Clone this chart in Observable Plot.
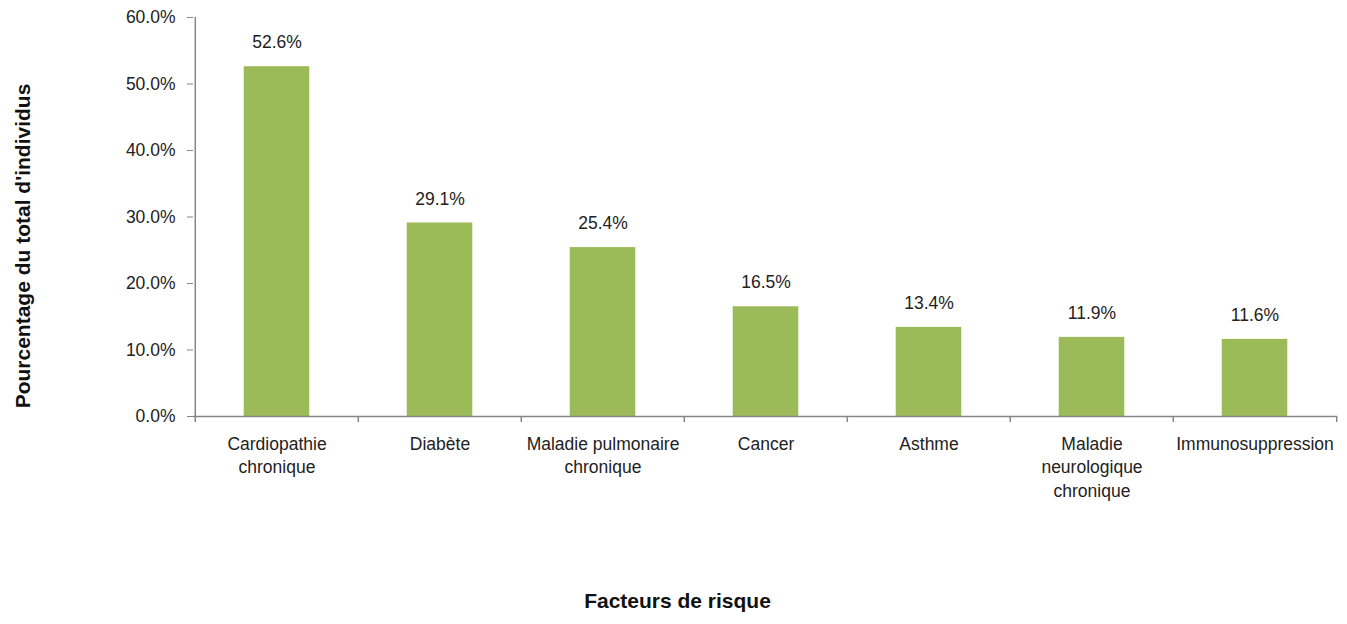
<!DOCTYPE html>
<html>
<head>
<meta charset="utf-8">
<script src="https://cdn.jsdelivr.net/npm/d3@7"></script>
<script src="https://cdn.jsdelivr.net/npm/@observablehq/plot@0.6"></script>
<style>
  html, body { margin: 0; padding: 0; background: #fff; }
  #chart svg { display: block; }
</style>
</head>
<body>
<div id="chart"></div>
<script>
const categories = [
  "Cardiopathie\nchronique",
  "Diabète",
  "Maladie pulmonaire\nchronique",
  "Cancer",
  "Asthme",
  "Maladie\nneurologique\nchronique",
  "Immunosuppression"
];
const values = [52.6, 29.1, 25.4, 16.5, 13.4, 11.9, 11.6];
const yTicks = [0, 10, 20, 30, 40, 50, 60];
const xTitle = "Facteurs de risque";
const yTitle = "Pourcentage du total d'individus";

const data = categories.map((c, i) => ({category: c, value: values[i]}));

const W = 1347, H = 624;
const mL = 193, mR = 10, mT = 17, mB = 208;
const bw = (W - mL - mR) / categories.length;
const barW = 66;
const inset = (bw - barW) / 2;
const font = "'Liberation Sans', Arial, sans-serif";
const axisColor = "#868686";
const fs = 17.5;

const chart = Plot.plot({
  width: W,
  height: H,
  marginLeft: mL,
  marginRight: mR,
  marginTop: mT,
  marginBottom: mB,
  style: {fontFamily: font, fontSize: fs + "px", color: "#222", background: "#fff"},
  x: {domain: categories, padding: 0, label: null},
  y: {domain: [0, 60], label: null},
  marks: [
    Plot.barY(data, {x: "category", y: "value", fill: "#9BBB59", insetLeft: inset, insetRight: inset}),
    Plot.text(data, {x: "category", y: "value", text: d => d.value.toFixed(1) + "%", dy: -24, fontSize: fs, fill: "#222"}),
    Plot.ruleY([0], {stroke: axisColor, strokeWidth: 1.5}),
    Plot.ruleX([categories[0]], {y1: 0, y2: 60, dx: -bw / 2, stroke: axisColor, strokeWidth: 1.5}),
    Plot.ruleX(categories, {y1: 0, y2: 0, dx: -bw / 2, insetBottom: -6, stroke: axisColor, strokeWidth: 1.5}),
    Plot.ruleX([categories[categories.length - 1]], {y1: 0, y2: 0, dx: bw / 2, insetBottom: -6, stroke: axisColor, strokeWidth: 1.5}),
    Plot.axisY(yTicks, {tickSize: 6, tickPadding: 12, stroke: axisColor, tickFormat: d => d.toFixed(1) + "%", fontSize: fs, fill: "#222", label: null}),
    Plot.axisX({tickSize: 0, tickPadding: 17, lineHeight: 1.33, fontSize: fs, fill: "#222", label: null, textAnchor: "middle", lineAnchor: "top"}),
    Plot.text([xTitle], {frameAnchor: "bottom", dx: 677 - (mL + (W - mL - mR) / 2), dy: 191, fontSize: 21, fontWeight: "bold", fill: "#111"}),
    Plot.text([yTitle], {frameAnchor: "left", textAnchor: "middle", dx: -170, dy: 29, rotate: -90, fontSize: 21, fontWeight: "bold", fill: "#111"})
  ]
});
document.getElementById("chart").appendChild(chart);
</script>
</body>
</html>
